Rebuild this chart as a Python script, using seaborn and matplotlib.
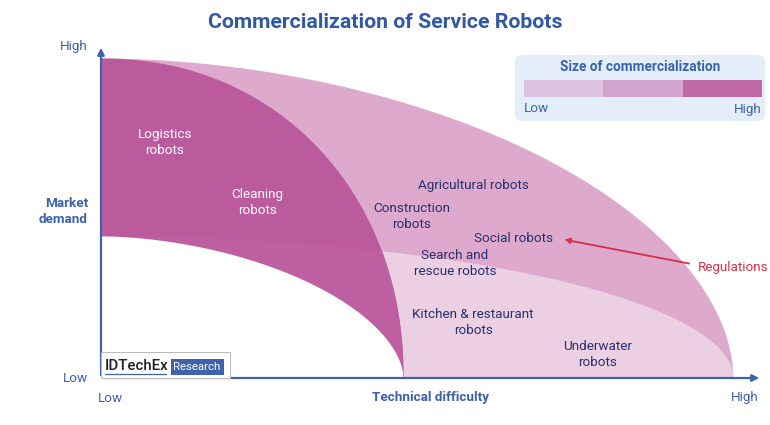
import numpy as np
import matplotlib
matplotlib.use("Agg")
import matplotlib.pyplot as plt
from matplotlib.patches import FancyBboxPatch, Rectangle
from matplotlib.lines import Line2D
import seaborn as sns

sns.set_theme(style="white")
plt.rcParams['font.family'] = ['Roboto', 'DejaVu Sans']

# Regions as rounded quarters from the origin:
# (reach on technical difficulty, reach on market demand, curve roundness)
outer_reach = (1.0, 1.0, 1.9)       # all service robots
light_reach = (1.0, 0.444, 2.0)     # low demand, high difficulty
dark_reach = (0.478, 1.0, 2.1)      # logistics / cleaning (large commercialization)
hole_reach = (0.478, 0.444, 1.8)    # empty corner

region_colors = ["#DDA9CC", "#EBD0E4", "#BC5A9E", "white"]
overlap_color = "#BE5FA1"

labels = ["Logistics\nrobots", "Cleaning\nrobots", "Agricultural robots", "Construction\nrobots",
          "Social robots", "Search and\nrescue robots", "Kitchen & restaurant\nrobots", "Underwater\nrobots"]
label_x = [0.101, 0.247, 0.589, 0.492, 0.653, 0.560, 0.589, 0.786]
label_y = [0.737, 0.547, 0.603, 0.506, 0.437, 0.359, 0.172, 0.072]
label_colors = ["white", "white"] + ["#2B2F6B"] * 6

legend_levels = ["Low", "Mid", "High"]
legend_colors = ["#DCC3DF", "#D2A4CB", "#BE68A5"]

blue = "#3B62AB"

fig = plt.figure(figsize=(7.7, 4.25), dpi=100)
ax = fig.add_axes([0, 0, 1, 1])
# pixel origin of chart at (101, 378); unit = 632 px wide, 320 px tall
ax.set_xlim(-101 / 632, 669 / 632)
ax.set_ylim(-47 / 320, 378 / 320)
ax.axis("off")


def edge(x, reach):
    a, b, p = reach
    return b * np.clip(1 - np.clip(x / a, 0, 1) ** p, 0, 1) ** (1 / p)


def quarter(ax, reach, color):
    x = np.linspace(0, reach[0], 600)
    ax.fill_between(x, 0, edge(x, reach), color=color, lw=0)


quarter(ax, outer_reach, region_colors[0])
quarter(ax, light_reach, region_colors[1])
quarter(ax, dark_reach, region_colors[2])
# where the dark region lies over the low-demand band the tint shifts a little
xd = np.linspace(0, dark_reach[0], 600)
ax.fill_between(xd, 0, np.minimum(edge(xd, dark_reach), edge(xd, light_reach)),
                color=overlap_color, lw=0)
quarter(ax, hole_reach, region_colors[3])

# axes arrows
ax.annotate("", xy=(661 / 632, 0), xytext=(0, 0),
            arrowprops=dict(arrowstyle="-|>", color=blue, lw=1.6, mutation_scale=10))
ax.annotate("", xy=(0, 333 / 320), xytext=(0, 0),
            arrowprops=dict(arrowstyle="-|>", color=blue, lw=1.6, mutation_scale=10))

# region labels
for t, x, y, c in zip(labels, label_x, label_y, label_colors):
    ax.text(x, y, t, ha="center", va="center", fontsize=9.7, color=c, linespacing=1.3)

# regulations
ax.annotate("", xy=(0.729, 0.434), xytext=(0.935, 0.356),
            arrowprops=dict(arrowstyle="-|>", color="#D6304A", lw=1.3, mutation_scale=8))
ax.text(0.945, 0.344, "Regulations", ha="left", va="center", fontsize=9.7, color="#D6304A")

# axis texts
ax.text(-13 / 632, 1.036, "High", ha="right", va="center", fontsize=9.7, color=blue)
ax.text(-13 / 632, 0.0, "Low", ha="right", va="center", fontsize=9.7, color=blue)
ax.text(-13 / 632, 0.52, "Market\ndemand", ha="right", va="center", fontsize=9.7,
        color=blue, fontweight="bold", linespacing=1.3)
ax.text(0.015, -0.0625, "Low", ha="center", va="center", fontsize=9.7, color=blue)
ax.text(0.522, -0.0625, "Technical difficulty", ha="center", va="center", fontsize=9.7,
        color=blue, fontweight="bold")
ax.text(1.019, -0.0625, "High", ha="center", va="center", fontsize=9.7, color=blue)

fig.text(0.5, 1 - 22 / 425, "Commercialization of Service Robots", ha="center", va="center",
         fontsize=15.3, fontweight="bold", color="#3258A3")

# legend panel
fig.patches.append(FancyBboxPatch((515 / 770, 1 - 121 / 425), 250 / 770, 66 / 425,
                                  boxstyle="round,pad=0,rounding_size=0.012",
                                  transform=fig.transFigure, facecolor="#E3EEF8",
                                  edgecolor="none", zorder=0))
fig.text(640 / 770, 1 - 67 / 425, "Size of commercialization", ha="center", va="center",
         fontsize=9.8, fontweight="bold", color=blue)
lax = fig.add_axes([524 / 770, 1 - 97 / 425, 238 / 770, 17 / 425])
lax.set_zorder(6)
sns.heatmap(np.arange(len(legend_levels)).reshape(1, -1), ax=lax, cbar=False,
            cmap=matplotlib.colors.ListedColormap(legend_colors), xticklabels=False,
            yticklabels=False, linewidths=0)
fig.text(524 / 770, 1 - 109 / 425, "Low", ha="left", va="center", fontsize=9.7, color=blue)
fig.text(762 / 770, 1 - 109 / 425, "High", ha="right", va="center", fontsize=9.7, color=blue)

# logo
fig.patches.append(Rectangle((101 / 770, 1 - 378 / 425), 129 / 770, 26 / 425,
                             transform=fig.transFigure, facecolor="white",
                             edgecolor="#BBBBBB", lw=0.8, zorder=3))
fig.text(105 / 770, 1 - 366 / 425, "IDTechEx", ha="left", va="center", fontsize=10.8,
         color="#222222", fontweight="medium", zorder=4)
fig.lines.append(Line2D([105 / 770, 166 / 770], [1 - 374 / 425, 1 - 374 / 425],
                        transform=fig.transFigure, color="#3E63AE", lw=0.9, zorder=4))
fig.patches.append(Rectangle((171 / 770, 1 - 375 / 425), 53 / 770, 16 / 425,
                             transform=fig.transFigure, facecolor="#3E63AE",
                             edgecolor="none", zorder=4))
fig.text(197 / 770, 1 - 367 / 425, "Research", ha="center", va="center", fontsize=8.2,
         color="white", zorder=5)

fig.savefig("out.png", dpi=100)
